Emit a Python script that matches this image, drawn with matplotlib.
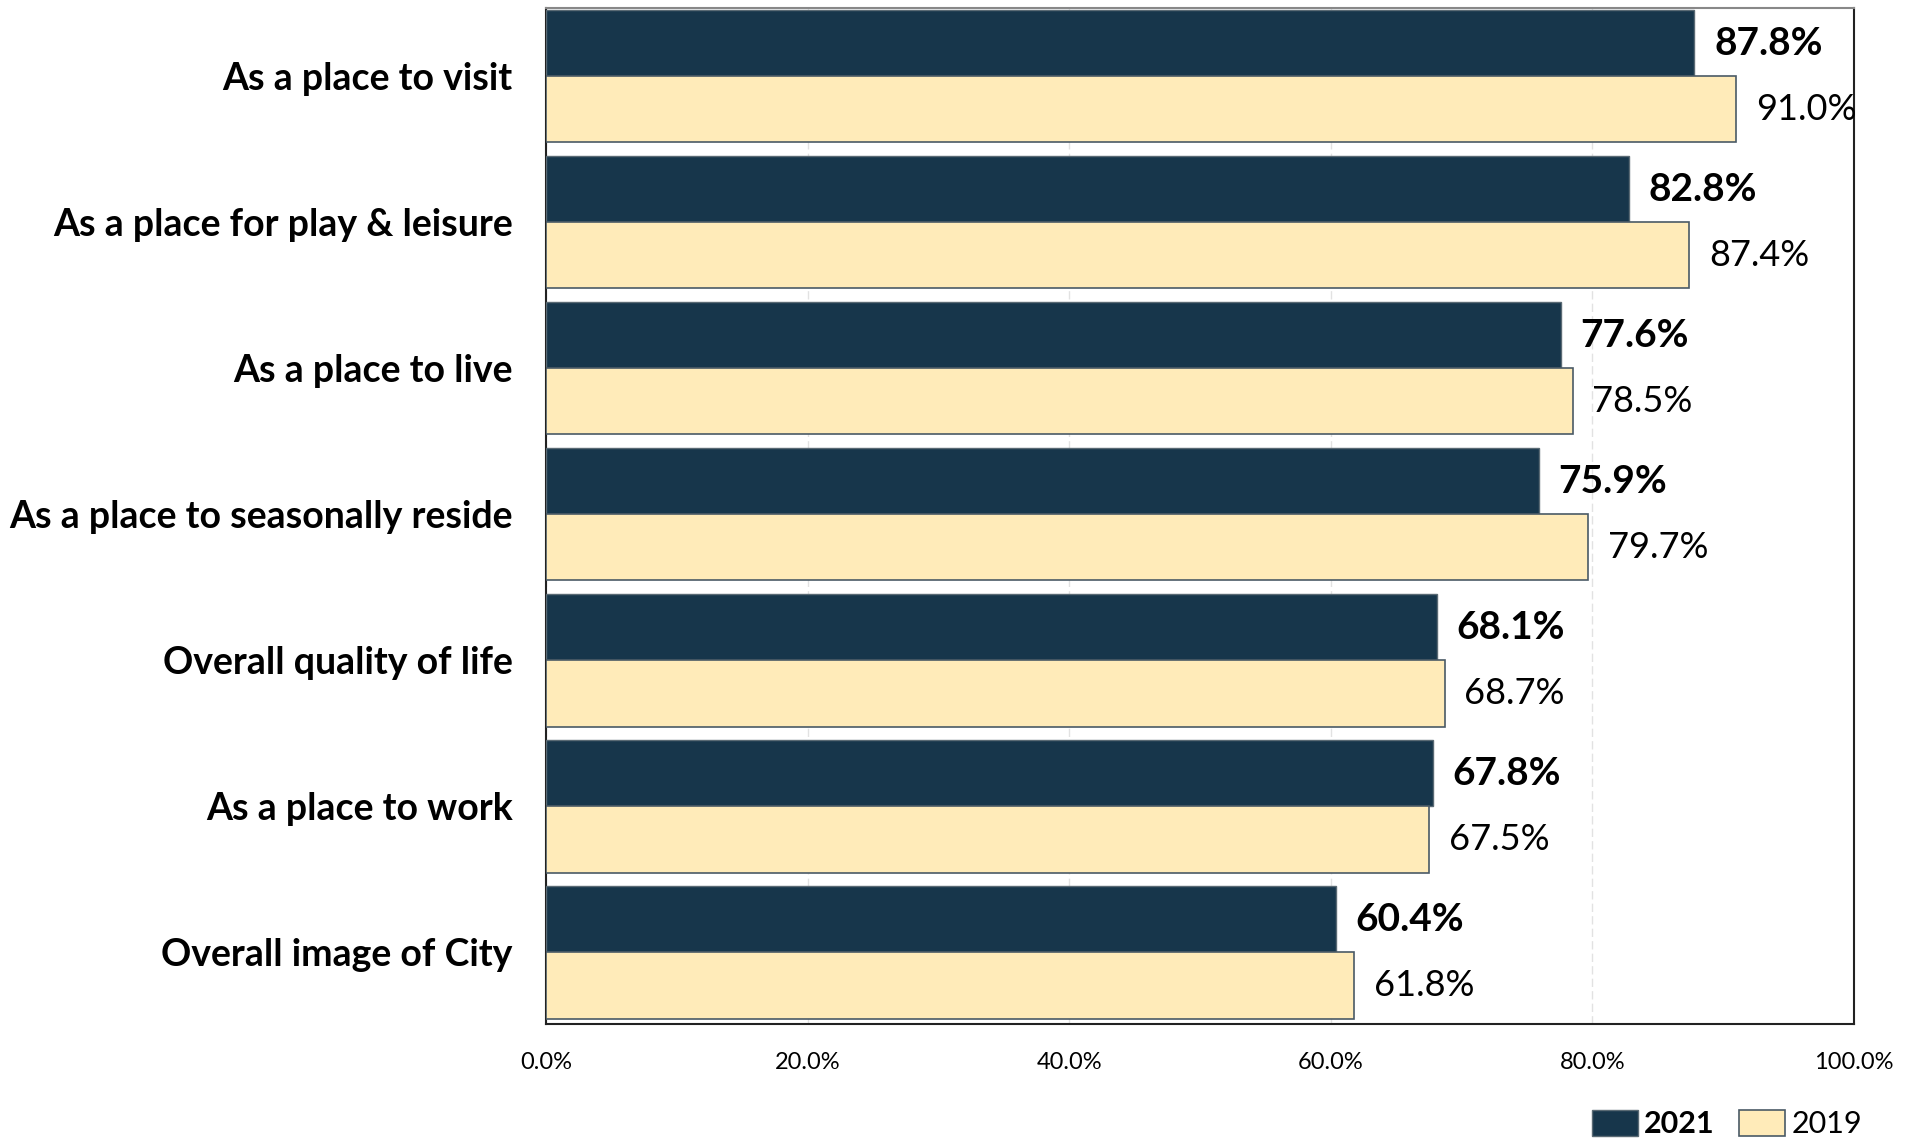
import numpy as np
import matplotlib.pyplot as plt
from matplotlib.ticker import FuncFormatter

categories = ['As a place to visit', 'As a place for play & leisure',
              'As a place to live', 'As a place to seasonally reside',
              'Overall quality of life', 'As a place to work',
              'Overall image of City']
values_2021 = [87.8, 82.8, 77.6, 75.9, 68.1, 67.8, 60.4]
values_2019 = [91.0, 87.4, 78.5, 79.7, 68.7, 67.5, 61.8]

plt.rcParams['font.family'] = ['Lato', 'DejaVu Sans']

fig = plt.figure(figsize=(19.14, 11.38), dpi=100)
ax = fig.add_axes([546 / 1914, 1 - 1024 / 1138, (1854 - 546) / 1914, (1024 - 8) / 1138])

y = np.arange(len(categories))
h = 0.453
dark = '#17364b'
light = '#ffebb9'

ax.barh(y - h / 2, values_2021, height=h, color=dark, edgecolor='#5a6a74',
        linewidth=1, label='2021', zorder=3)
ax.barh(y + h / 2, values_2019, height=h, color=light, edgecolor='#4a5a66',
        linewidth=1.2, label='2019', zorder=3)

for yi, v in zip(y, values_2021):
    ax.text(v + 1.5, yi - h / 2, f'{v:.1f}%', va='center', ha='left',
            fontsize=28, fontweight='bold', color='black')
for yi, v in zip(y, values_2019):
    ax.text(v + 1.5, yi + h / 2, f'{v:.1f}%', va='center', ha='left',
            fontsize=26, color='black')

ax.set_xlim(0, 100)
ax.set_ylim(6.49, -0.467)
ax.set_yticks(y)
ax.set_yticklabels(categories, fontsize=27, fontweight='bold')
ax.set_xticks(np.arange(0, 101, 20))
ax.xaxis.set_major_formatter(FuncFormatter(lambda v, p: f'{v:.1f}%'))
ax.tick_params(axis='x', labelsize=17, length=0, pad=20)
ax.tick_params(axis='y', length=0, pad=24)

ax.grid(axis='x', color='#e2e2e2', linestyle=(0, (6, 3)), linewidth=1, zorder=0)
for s in ax.spines.values():
    s.set_color('#222222')
    s.set_linewidth(1.5)
ax.spines['top'].set_color('#888888')

handles, labels = ax.get_legend_handles_labels()
leg = fig.legend(handles, labels, loc='center right',
                 bbox_to_anchor=(1862 / 1914, 1 - 1124 / 1138), ncol=2,
                 frameon=False, fontsize=22, handlelength=1.5, handleheight=0.95,
                 handletextpad=0.2, columnspacing=0.8, borderaxespad=0, borderpad=0)
leg.get_texts()[0].set_fontweight('bold')

fig.savefig('out.png', dpi=100)
